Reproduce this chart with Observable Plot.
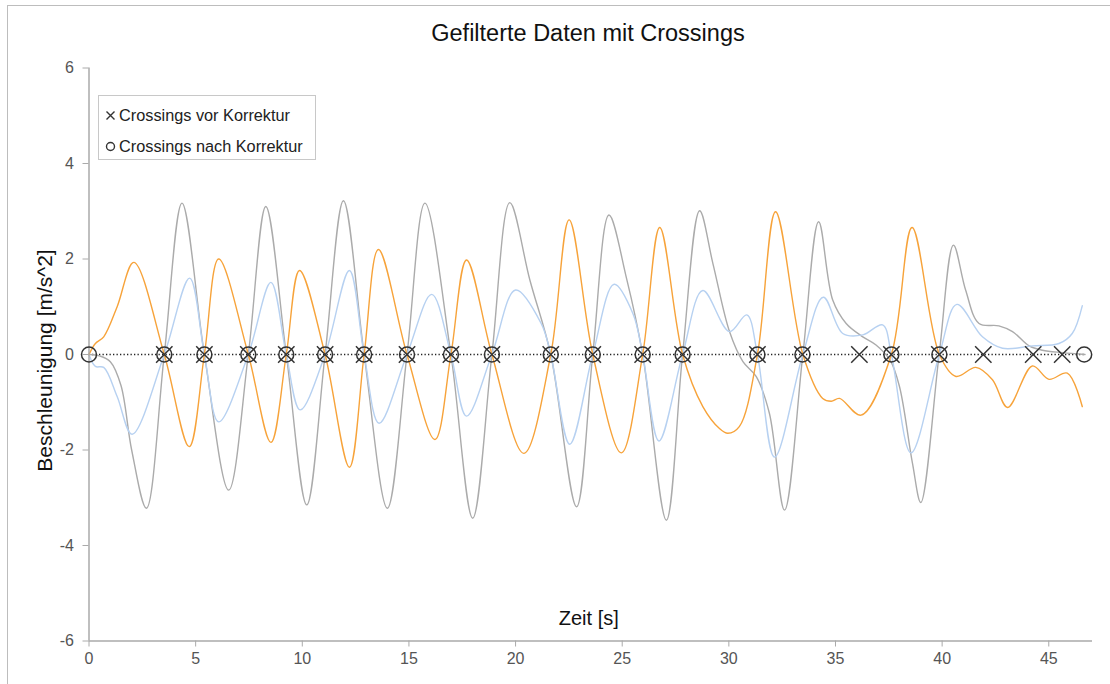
<!DOCTYPE html>
<html>
<head>
<meta charset="utf-8">
<script src="https://cdn.jsdelivr.net/npm/d3@7"></script>
<script src="https://cdn.jsdelivr.net/npm/@observablehq/plot@0.6"></script>
<style>
  html, body { margin: 0; padding: 0; background: #fff; }
  #wrap { position: relative; width: 1110px; height: 684px; overflow: hidden; font-family: "Liberation Sans", Arial, sans-serif; }
  #frame { position: absolute; left: 7px; top: 5px; right: -5px; bottom: -5px; border-left: 1.5px solid #bdbdbd; border-top: 1.5px solid #bdbdbd; pointer-events: none; }
  #title { position: absolute; left: 338px; width: 500px; top: 20px; text-align: center; font-size: 23.5px; color: #111; }
  #chart { position: absolute; left: 0; top: 0; }
  #legend { position: absolute; left: 98px; top: 95px; width: 216px; height: 63px; border: 1px solid #c8c8c8; background: #fff; font-size: 16.3px; color: #222; }
  .lrow { position: absolute; left: 6px; height: 20px; display: flex; align-items: center; white-space: nowrap; }
  .lrow svg { margin-right: 3px; }
</style>
</head>
<body>
<div id="wrap">
  <div id="frame"></div>
  <div id="chart"></div>
  <div id="title"></div>
  <div id="legend"></div>
</div>
<script>
// ---------- Data ----------
const titleText = "Gefilterte Daten mit Crossings";
const xLabel = "Zeit [s]";
const yLabel = "Beschleunigung [m/s^2]";
const xTicks = [0, 5, 10, 15, 20, 25, 30, 35, 40, 45];
const yTicks = [-6, -4, -2, 0, 2, 4, 6];
const legendLabels = ["Crossings vor Korrektur", "Crossings nach Korrektur"];

// gray series
const grayT = [0, 0.5, 1.0, 1.5, 2.0, 2.69, 3.53, 4.36, 5.41, 6.55, 7.47, 8.29, 9.25, 10.21, 11.07, 11.93, 12.9, 13.99, 14.91, 15.75, 16.97, 17.99, 18.89, 19.73, 20.67, 21.65, 22.86, 23.62, 24.38, 25.2, 25.96, 27.07, 27.83, 28.63, 29.25, 30.03, 30.66, 31.28, 31.9, 32.61, 33.47, 34.21, 34.87, 35.5, 36.28, 36.9, 37.56, 38.0, 38.61, 39.0, 39.86, 40.53, 41.1, 41.73, 42.66, 43.3, 44.08, 44.7, 45.63, 46.7];
const grayV = [0, -0.03, -0.15, -0.65, -2.0, -3.22, 0, 3.17, 0, -2.84, 0, 3.10, 0, -3.15, 0, 3.22, 0, -3.22, 0, 3.17, 0, -3.43, 0, 3.18, 1.56, 0, -3.19, 0, 2.92, 1.6, 0, -3.47, 0, 3.01, 1.91, 0.48, -0.15, -0.46, -1.23, -3.26, 0, 2.78, 1.14, 0.65, 0.37, 0.2, -0.12, -0.67, -2.28, -3.1, 0, 2.29, 1.35, 0.65, 0.6, 0.48, 0.18, 0.09, 0.04, 0.0];

// blue series
const blueT = [0, 0.3, 0.69, 1.32, 2.02, 3.53, 4.72, 5.41, 6.08, 7.47, 8.53, 9.25, 9.9, 11.07, 12.21, 12.9, 13.6, 14.91, 16.07, 16.97, 17.7, 18.89, 20.0, 21.2, 21.65, 22.54, 23.62, 24.62, 25.5, 25.96, 26.72, 27.83, 28.78, 30.03, 30.84, 31.34, 32.14, 33.47, 34.43, 35.34, 36.28, 37.21, 37.62, 38.54, 39.87, 40.69, 41.89, 42.83, 44.23, 45.48, 46.1, 46.57];
const blueV = [0, -0.25, -0.27, -0.88, -1.67, 0, 1.60, 0, -1.41, 0, 1.51, 0, -1.16, 0, 1.76, 0, -1.44, 0, 1.26, 0, -1.29, 0, 1.35, 0.65, 0, -1.88, 0, 1.47, 0.86, 0, -1.81, 0, 1.34, 0.48, 0.83, 0, -2.15, 0, 1.2, 0.44, 0.41, 0.62, 0, -2.06, 0, 1.05, 0.37, 0.13, 0.18, 0.23, 0.44, 1.02];

// orange series
const orangeT = [0, 0.3, 0.69, 1.32, 2.1, 3.53, 4.7, 5.41, 6.08, 7.47, 8.53, 9.25, 9.87, 11.07, 12.21, 12.9, 13.57, 14.91, 16.22, 16.97, 17.7, 18.89, 20.39, 21.65, 22.51, 23.62, 24.96, 25.96, 26.76, 27.83, 28.78, 29.56, 29.95, 30.49, 31.34, 32.19, 33.47, 34.4, 34.8, 35.19, 36.2, 37.62, 38.59, 39.87, 40.65, 41.58, 42.36, 43.07, 44.23, 45.01, 45.87, 46.57];
const orangeV = [0, 0.23, 0.37, 1.0, 1.93, 0, -1.93, 0, 2.0, 0, -1.84, 0, 1.76, 0, -2.36, 0, 2.2, 0, -1.78, 0, 1.98, 0, -2.07, 0, 2.82, 0, -2.06, 0, 2.66, 0, -1.09, -1.55, -1.65, -1.51, 0, 2.99, 0, -0.92, -0.98, -0.92, -1.27, 0, 2.66, 0, -0.46, -0.27, -0.53, -1.11, -0.24, -0.52, -0.39, -1.09];

// crossings
const crossVor = [3.53, 5.41, 7.47, 9.25, 11.07, 12.9, 14.91, 16.97, 18.89, 21.65, 23.62, 25.96, 27.83, 31.34, 33.45, 36.12, 37.62, 39.87, 41.93, 44.27, 45.63];
const crossNach = [0, 3.53, 5.41, 7.47, 9.25, 11.07, 12.9, 14.91, 16.97, 18.89, 21.65, 23.62, 25.96, 27.83, 31.34, 33.45, 37.62, 39.87, 46.66];

// ---------- Build ----------
const seriesColors = { gray: "#ababab", blue: "#b7d1f1", orange: "#f7a33a" };
const mk = (name, T, V) => T.map((t, i) => ({ series: name, t, v: V[i] }));
const lineData = [...mk("gray", grayT, grayV), ...mk("blue", blueT, blueV), ...mk("orange", orangeT, orangeV)];
const zeroEnd = d3.max(crossNach);

const font = "'Liberation Sans', Arial, sans-serif";

const chart = Plot.plot({
  width: 1110,
  height: 684,
  marginTop: 67.5,
  marginBottom: 43.5,
  marginLeft: 88.5,
  marginRight: 18,
  x: { domain: [0, 47.05] },
  y: { domain: [-6, 6] },
  style: { fontFamily: font, fontSize: "16px", color: "#555", background: "transparent", overflow: "visible" },
  marks: [
    Plot.ruleY([{ y: 0, x1: 0, x2: zeroEnd }], { y: "y", x1: "x1", x2: "x2", stroke: "#222", strokeWidth: 1.3, strokeDasharray: "1.3,2.2" }),
    ...["gray", "blue", "orange"].map(s =>
      Plot.line(lineData.filter(d => d.series === s), { x: "t", y: "v", stroke: seriesColors[s], strokeWidth: 1.4, curve: "catmull-rom" })
    ),
    Plot.ruleX([0], { stroke: "#aaa", strokeWidth: 1.5 }),
    Plot.ruleY([-6], { stroke: "#aaa", strokeWidth: 1.5 }),
    Plot.axisX({ ticks: xTicks, tickSize: 6, tickPadding: 6, label: null, stroke: "#aaa", fill: "#555", fontSize: 16, tickFormat: d => String(d) }),
    Plot.axisY({ ticks: yTicks, tickSize: 6, tickPadding: 9, label: null, stroke: "#aaa", fill: "#555", fontSize: 16, tickFormat: d => String(d) }),
    Plot.dot(crossNach, { x: d => d, y: () => 0, symbol: "circle", r: 7.5, stroke: "#333", strokeWidth: 1.5, fill: "none" }),
    Plot.dot(crossVor, { x: d => d, y: () => 0, symbol: "times", r: 7.5, stroke: "#333", strokeWidth: 1.5 }),
    Plot.text([xLabel], { frameAnchor: "bottom", dy: -22.5, dx: -2, lineAnchor: "middle", fontSize: 20, fill: "#111" }),
    Plot.text([yLabel], { frameAnchor: "left", dx: -44, dy: 6, rotate: -90, lineAnchor: "middle", textAnchor: "middle", fontSize: 21, fill: "#111" })
  ]
});
document.getElementById("chart").appendChild(chart);
document.getElementById("title").textContent = titleText;

// legend
const legend = document.getElementById("legend");
const symSvg = [
  '<svg width="11" height="11" viewBox="-5.5 -5.5 11 11"><path d="M-4,-4L4,4M4,-4L-4,4" stroke="#333" stroke-width="1.4" fill="none"/></svg>',
  '<svg width="11" height="11" viewBox="-5.5 -5.5 11 11"><circle r="4" stroke="#333" stroke-width="1.4" fill="none"/></svg>'
];
legendLabels.forEach((lab, i) => {
  const row = document.createElement("div");
  row.className = "lrow";
  row.style.top = (i === 0 ? 9 : 40) + "px";
  row.innerHTML = symSvg[i];
  const span = document.createElement("span");
  span.textContent = lab;
  row.appendChild(span);
  legend.appendChild(row);
});
</script>
</body>
</html>
